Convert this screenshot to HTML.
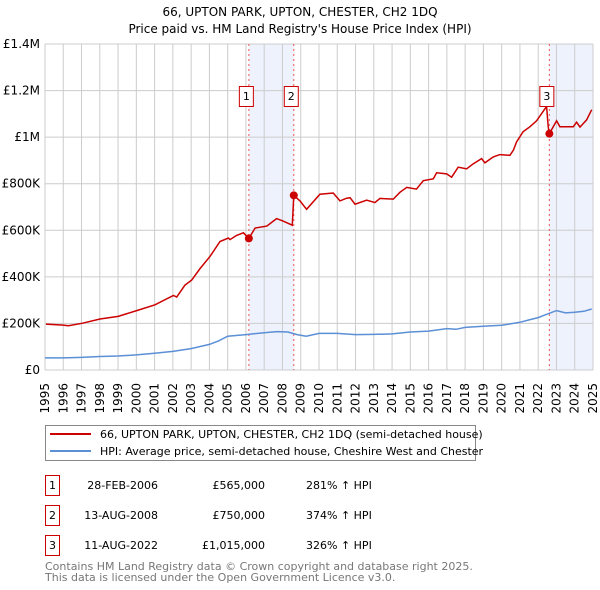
<!DOCTYPE html>
<html><head><meta charset="utf-8"><style>
body{margin:0;background:#fff;font-family:"DejaVu Sans","Liberation Sans",sans-serif;position:relative;width:600px;height:590px;overflow:hidden}
svg{display:block;position:absolute;left:0;top:0}
.xl{position:absolute;top:383px;width:14px;margin-left:-7px;font-size:12px;line-height:14px;white-space:nowrap;writing-mode:vertical-rl;writing-mode:sideways-lr}
</style></head><body>
<svg id="c" width="600" height="590" xmlns="http://www.w3.org/2000/svg">
<text x="300" y="16" text-anchor="middle" font-size="12">66, UPTON PARK, UPTON, CHESTER, CH2 1DQ</text>
<text x="300" y="33" text-anchor="middle" font-size="12">Price paid vs. HM Land Registry's House Price Index (HPI)</text>
<g id="plot"></g>
<g>
<rect x="45.5" y="425.5" width="430" height="35" fill="#fff" stroke="#888"/>
<line x1="50" y1="434" x2="91" y2="434" stroke="#cc0000" stroke-width="2"/>
<text x="100" y="438" font-size="11">66, UPTON PARK, UPTON, CHESTER, CH2 1DQ (semi-detached house)</text>
<line x1="50" y1="451" x2="91" y2="451" stroke="#5b8fd6" stroke-width="2"/>
<text x="100" y="455" font-size="11">HPI: Average price, semi-detached house, Cheshire West and Chester</text>
</g>
<g id="table" font-size="11"></g>
<text x="45" y="570" font-size="11" fill="#777">Contains HM Land Registry data © Crown copyright and database right 2025.</text>
<text x="45" y="581" font-size="11" fill="#777">This data is licensed under the Open Government Licence v3.0.</text>
</svg>
<div class="xl" style="left:45.0px">1995</div>
<div class="xl" style="left:63.3px">1996</div>
<div class="xl" style="left:81.5px">1997</div>
<div class="xl" style="left:99.8px">1998</div>
<div class="xl" style="left:118.1px">1999</div>
<div class="xl" style="left:136.3px">2000</div>
<div class="xl" style="left:154.6px">2001</div>
<div class="xl" style="left:172.9px">2002</div>
<div class="xl" style="left:191.1px">2003</div>
<div class="xl" style="left:209.4px">2004</div>
<div class="xl" style="left:227.7px">2005</div>
<div class="xl" style="left:245.9px">2006</div>
<div class="xl" style="left:264.2px">2007</div>
<div class="xl" style="left:282.5px">2008</div>
<div class="xl" style="left:300.7px">2009</div>
<div class="xl" style="left:319.0px">2010</div>
<div class="xl" style="left:337.3px">2011</div>
<div class="xl" style="left:355.5px">2012</div>
<div class="xl" style="left:373.8px">2013</div>
<div class="xl" style="left:392.1px">2014</div>
<div class="xl" style="left:410.3px">2015</div>
<div class="xl" style="left:428.6px">2016</div>
<div class="xl" style="left:446.9px">2017</div>
<div class="xl" style="left:465.1px">2018</div>
<div class="xl" style="left:483.4px">2019</div>
<div class="xl" style="left:501.7px">2020</div>
<div class="xl" style="left:519.9px">2021</div>
<div class="xl" style="left:538.2px">2022</div>
<div class="xl" style="left:556.5px">2023</div>
<div class="xl" style="left:574.7px">2024</div>
<div class="xl" style="left:593.0px">2025</div>
<script>
const redYears=[1995.05,1996.0,1996.28,1997.06,1998.01,1999.01,2000.02,2001.02,2002.03,2002.21,2002.66,2003.03,2003.49,2004.03,2004.58,2005.04,2005.13,2005.49,2005.86,2006.16,2006.5,2007.14,2007.68,2008.05,2008.54,2008.62,2008.96,2009.32,2010.05,2010.78,2011.15,2011.51,2011.7,2011.97,2012.61,2013.06,2013.34,2014.07,2014.43,2014.8,2015.34,2015.71,2016.26,2016.44,2016.99,2017.26,2017.62,2018.08,2018.45,2018.9,2019.08,2019.54,2019.9,2020.45,2020.64,2020.82,2021.18,2021.55,2021.91,2022.46,2022.55,2022.61,2023.01,2023.19,2023.92,2024.1,2024.29,2024.65,2024.93];
const redValues=[197,193,190,201,219,230,255,280,320,313,364,386,436,487,552,567,560,578,589,565,610,618,650,639,622,750,726,690,755,760,726,738,740,712,729,719,737,734,763,784,777,813,821,847,842,828,871,864,886,908,890,915,925,922,944,980,1024,1045,1070,1132,1045,1015,1070,1045,1045,1064,1043,1074,1118];
const hpiYears=[1995,1996,1997,1998,1999,2000,2001,2002,2003,2004,2004.5,2005,2006,2007,2007.7,2008.3,2008.8,2009.3,2010,2011,2012,2013,2014,2015,2016,2017,2017.5,2018,2019,2020,2021,2021.5,2022,2022.5,2023,2023.5,2024,2024.5,2024.93];
const hpiValues=[52,52,54,58,60,65,72,80,92,110,125,145,152,160,165,163,152,145,157,157,152,153,155,163,167,178,175,183,188,192,205,215,225,240,255,245,248,252,262];
const yTicks=[0,200,400,600,800,1000,1200,1400];
const yTickLabels=["£0","£200K","£400K","£600K","£800K","£1M","£1.2M","£1.4M"];
const saleYears=[2006.16,2008.62,2022.61];
const saleValues=[565,750,1015];
const saleLabels=["1","2","3"];
const saleDates=["28-FEB-2006","13-AUG-2008","11-AUG-2022"];
const salePrices=["£565,000","£750,000","£1,015,000"];
const saleHpi=["281% ↑ HPI","374% ↑ HPI","326% ↑ HPI"];

const X0=45,X1=593,Y0=370,Y1=44,ymax=1400;
const sx=y=>X0+(y-1995)/30*(X1-X0);
const sy=v=>Y0-v/ymax*(Y0-Y1);
const NS="http://www.w3.org/2000/svg";
const plot=document.getElementById('plot');
function mk(tag,attrs,parent){const e=document.createElementNS(NS,tag);for(const k in attrs)e.setAttribute(k,attrs[k]);(parent||plot).appendChild(e);return e;}
const sh1=mk('rect',{x:sx(saleYears[0]),y:Y1,width:sx(saleYears[1])-sx(saleYears[0]),height:Y0-Y1,fill:'#eef2fc'});


const sh2=mk('rect',{x:sx(saleYears[2]),y:Y1,width:X1-sx(saleYears[2]),height:Y0-Y1,fill:'#eef2fc'});


for(let y=1995;y<=2025;y++){
  const g=mk('line',{x1:sx(y),x2:sx(y),y1:Y1,y2:Y0,stroke:'#ccc','stroke-width':1});
  
  
}
yTicks.forEach((v,i)=>{
  const g=mk('line',{x1:X0,x2:X1,y1:sy(v),y2:sy(v),stroke:'#ccc','stroke-width':1});
  
  
  const t=mk('text',{x:40,y:sy(v)+4,'font-size':12,'text-anchor':'end'});
  t.textContent=yTickLabels[i];
  
  
});
saleYears.forEach(y=>{
  const l=mk('line',{x1:sx(y),x2:sx(y),y1:Y1,y2:Y0,stroke:'#e55','stroke-width':1,'stroke-dasharray':'2,3'});
  
  
});
function pts(xs,vs){return xs.map((x,i)=>sx(x).toFixed(1)+','+sy(vs[i]).toFixed(1)).join(' ');}
const hl=mk('polyline',{points:pts(hpiYears,hpiValues),fill:'none',stroke:'#5b8fd6','stroke-width':1.5});


const rl=mk('polyline',{points:pts(redYears,redValues),fill:'none',stroke:'#cc0000','stroke-width':1.5});


saleYears.forEach((y,i)=>{
  const c=mk('circle',{cx:sx(y),cy:sy(saleValues[i]),r:4,fill:'#cc0000'});
  
  
  const bx=sx(y)-3-7;
  const b=mk('rect',{x:bx+0.5,y:86.5,width:14,height:20,fill:'#fff',stroke:'#cc0000'});
  
  
  const t=mk('text',{x:bx+7.5,y:100,'font-size':11,'text-anchor':'middle'});
  t.textContent=saleLabels[i];
  
  
});
const tb=document.getElementById('table');
const rowsY=[483,513,543];
saleLabels.forEach((s,i)=>{
  const y=rowsY[i];
  const b=mk('rect',{x:45.5,y:y-7.5,width:14,height:20,fill:'#fff',stroke:'#cc0000'},tb);
  
  
  const cells=[[52.5,s,'middle'],[158,saleDates[i],'end'],[265,salePrices[i],'end'],[306,saleHpi[i],'start']];
  cells.forEach(c=>{
    const t=mk('text',{x:c[0],y:y+6,'text-anchor':c[2]},tb);
    t.textContent=c[1];
    
    
  });
});
</script>
</body></html>
